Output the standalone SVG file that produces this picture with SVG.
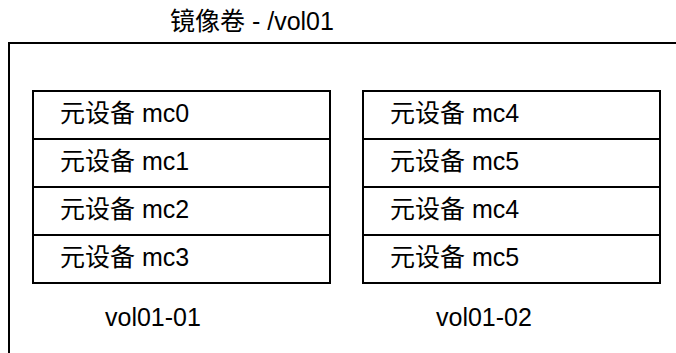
<svg xmlns="http://www.w3.org/2000/svg" width="676" height="353" viewBox="0 0 676 353">
<style>
.ln{fill:none;stroke:#000;stroke-width:2}
.t{font-family:"Liberation Sans","Noto Sans CJK SC",sans-serif;font-size:25px;fill:#000}
</style>
<rect width="676" height="353" fill="#fff"/>
<g id="mirror-volume">
<path class="ln" d="M9,353 V43 H676"/>
<text class="t" x="170" y="30">镜像卷 - /vol01</text>
</g>
<g id="vol01-01">
<rect class="ln" x="33" y="91" width="297" height="192"/>
<line class="ln" x1="33" y1="139" x2="330" y2="139"/>
<line class="ln" x1="33" y1="187" x2="330" y2="187"/>
<line class="ln" x1="33" y1="235" x2="330" y2="235"/>
<text class="t" x="60" y="122">元设备 mc0</text>
<text class="t" x="60" y="170">元设备 mc1</text>
<text class="t" x="60" y="218">元设备 mc2</text>
<text class="t" x="60" y="266">元设备 mc3</text>
<text class="t" x="105" y="326">vol01-01</text>
</g>
<g id="vol01-02">
<rect class="ln" x="363" y="91" width="297" height="192"/>
<line class="ln" x1="363" y1="139" x2="660" y2="139"/>
<line class="ln" x1="363" y1="187" x2="660" y2="187"/>
<line class="ln" x1="363" y1="235" x2="660" y2="235"/>
<text class="t" x="390" y="122">元设备 mc4</text>
<text class="t" x="390" y="170">元设备 mc5</text>
<text class="t" x="390" y="218">元设备 mc4</text>
<text class="t" x="390" y="266">元设备 mc5</text>
<text class="t" x="436" y="326">vol01-02</text>
</g>
<g id="connectors"></g>
</svg>
